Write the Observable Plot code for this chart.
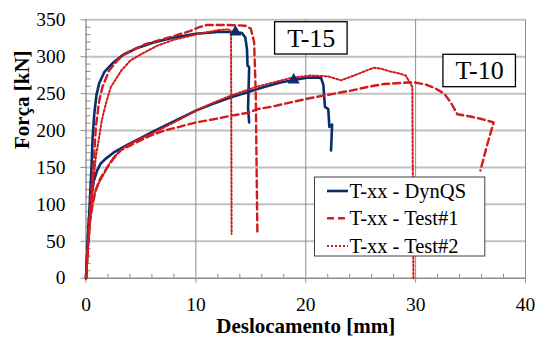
<!DOCTYPE html>
<html><head><meta charset="utf-8">
<script src="https://cdn.jsdelivr.net/npm/d3@7"></script>
<script src="https://cdn.jsdelivr.net/npm/@observablehq/plot@0.6"></script>
<style>
body{margin:0;background:#fff}
#chart{position:relative;width:536px;height:340px}
</style>
</head><body><div id="chart"></div>
<script>
// ---- axis ticks ----
const xTicks = [0, 10, 20, 30, 40];
const yTicks = [0, 50, 100, 150, 200, 250, 300, 350];
const xMinorTicks = [2, 4, 6, 8, 12, 14, 16, 18, 22, 24, 26, 28, 32, 34, 36, 38];
const yMinorTicks = [10,20,30,40,60,70,80,90,110,120,130,140,160,170,180,190,210,220,230,240,260,270,280,290,310,320,330,340];

// ---- series names ----
const seriesNames = ["T-xx - DynQS", "T-xx - Test#1", "T-xx - Test#2"];
const specimenNames = ["T-15", "T-10"];

// ---- T-15 curves [deslocamento mm, força kN] ----
const t15DynQS = [[0,0],[0.1,30],[0.2,60],[0.29,85],[0.4,120],[0.5,150],[0.6,190],[0.75,222],[0.95,248],[1.2,264],[1.66,279],[2.41,291],[3.32,302],[4.54,311],[6.06,319],[8,326],[10,331],[12,333.5],[13.6,333.5],[14.2,332],[14.5,326],[14.65,310],[14.7,288],[14.85,286],[14.75,230],[14.85,211]];
const t15Test1 = [[0,0],[0.1,25],[0.2,50],[0.3,75],[0.45,110],[0.68,150],[0.9,205],[1.2,240],[1.5,259],[2.1,281],[2.8,294],[3.5,304],[5.4,317],[8,328],[9.5,335],[10.3,340],[11,343],[13,343],[14.5,342],[15,338],[15.3,320],[15.45,250],[15.6,58]];
const t15Test2 = [[0,0],[0.15,30],[0.3,60],[0.45,95],[0.6,123],[0.9,165],[1.2,191],[1.44,214],[1.8,236],[2.26,259],[3.2,281],[4.05,295],[5.1,304],[6.5,315],[8,323],[10,330],[12,336],[13,337],[13.2,334],[13.25,60]];

// ---- T-10 curves ----
const t10DynQS = [[0,0],[0.1,30],[0.2,60],[0.3,85],[0.45,105],[0.71,132],[1.02,146],[1.32,155],[1.8,162],[2.5,170],[3.3,177],[4.05,183],[5,190],[6.05,198],[7.1,206],[8.5,216],[10,227],[11.5,236],[13.2,245],[14.7,252],[16.2,259],[17.7,265],[18.9,268.5],[20.1,271.5],[21.05,272],[21.4,271],[21.6,262],[21.75,232],[22.05,229],[22.15,205],[22.4,208],[22.3,173]];
const t10Test1 = [[0,0],[0.1,25],[0.2,50],[0.35,75],[0.55,95],[0.87,119],[1.3,135],[1.93,150],[2.5,162],[3.14,173],[4.05,180],[5,187],[5.87,193],[7.1,200],[8.5,205],[10,211],[11.5,215],[13.2,220],[14.7,224],[15.6,229],[16.8,232],[18,236],[20.1,243],[21.5,247],[22.6,250],[24.1,254],[25.6,259],[27.1,263],[28.3,264],[29.25,265],[30,265],[31,262],[31.7,258],[32.6,250],[33.2,238],[33.8,222],[35,219],[35.9,216],[37.1,211],[36.5,180],[35.9,146]];
const t10Test2 = [[0,0],[0.1,25],[0.2,50],[0.3,70],[0.5,95],[0.8,115],[1.2,130],[1.62,141],[2,152],[2.53,164],[3.44,177],[4.5,186],[6,196],[8,211],[10,227],[11.5,237],[13.2,247.5],[15.6,259.6],[17,265],[18.6,271],[20.4,274.5],[22,273.5],[23.2,268],[24.4,274.5],[25.3,280],[26.2,285],[26.8,284],[27.7,280],[28.6,277],[29.1,274.5],[29.7,259],[29.8,0]];

// ---- DynQS peak markers ----
const peakMarkers = [[13.6,333.5],[18.9,268.5]];

// ---- specimen label boxes (data units) ----
const labelCenters = [[20.5,324.7],[35.83,280.6]];
const labelBoxes = [[17.21,23.81,303,346.7],[32.53,39.13,258.7,302.6]];

// ---- build table ----
const rows = [];
const add = (series, spec, pts) => pts.forEach(([x,y]) => rows.push({series, spec, x, y}));
add(seriesNames[0], specimenNames[0], t15DynQS);
add(seriesNames[1], specimenNames[0], t15Test1);
add(seriesNames[2], specimenNames[0], t15Test2);
add(seriesNames[0], specimenNames[1], t10DynQS);
add(seriesNames[1], specimenNames[1], t10Test1);
add(seriesNames[2], specimenNames[1], t10Test2);

const FONT = "'Liberation Serif','Times New Roman',serif";
const BLUE = "#0c2d6b", RED = "#d01c1c", GRID = "#c0c0c0", AX = "#8c8c8c";
const W = 536, H = 340, mL = 85.5, mR = 11, mT = 19.3, mB = 62.3;
const fw = W - mL - mR, fh = H - mT - mB;
const styles = [
  {stroke: BLUE, strokeWidth: 2.6},
  {stroke: RED, strokeWidth: 2.4, strokeDasharray: "7,4"},
  {stroke: RED, strokeWidth: 2, strokeDasharray: "2,2"}
];

const chart = Plot.plot({
  width: W, height: H,
  marginLeft: mL, marginRight: mR, marginTop: mT, marginBottom: mB,
  x: {domain: [0, 40]},
  y: {domain: [0, 350]},
  style: {fontFamily: FONT, fontSize: "19.5px", color: "#000", background: "#fff"},
  marks: [
    Plot.ruleY(yTicks.filter(v => v > 0), {stroke: GRID, strokeWidth: 2}),
    Plot.ruleX(xTicks.filter(v => v > 0), {stroke: AX, strokeWidth: 1}),
    Plot.tickY(yMinorTicks, {y: d => d, insetRight: fw - 5, stroke: AX}),
    Plot.tickX(xMinorTicks, {x: d => d, insetTop: fh - 4, stroke: AX}),
    Plot.ruleX([0], {stroke: AX, strokeWidth: 1.3}),
    Plot.ruleY([0], {stroke: AX, strokeWidth: 1.5}),
    Plot.axisX({ticks: xTicks, tickSize: 5, tickPadding: 13.5, stroke: AX, fill: "#000", label: null, tickFormat: d => d, fontFamily: FONT}),
    Plot.axisY({ticks: yTicks, tickSize: 5, tickPadding: 15.5, stroke: AX, fill: "#000", label: null, tickFormat: d => d, fontFamily: FONT}),
    ...seriesNames.map((s, i) => Plot.line(rows.filter(d => d.series === s), {x: "x", y: "y", z: "spec", ...styles[i], curve: "linear", strokeLinejoin: "round"})),
    Plot.dot(peakMarkers, {x: d => d[0], y: d => d[1], symbol: "triangle", r: 4.5, fill: BLUE, stroke: null}),
    Plot.rect(labelBoxes, {x1: d => d[0], x2: d => d[1], y1: d => d[2], y2: d => d[3], fill: "#fff", stroke: "#000", strokeWidth: 1.3}),
    Plot.text(labelCenters, {x: d => d[0], y: d => d[1], text: (d, i) => specimenNames[i], fontSize: 26, fontFamily: FONT}),
    Plot.text(["Deslocamento [mm]"], {frameAnchor: "bottom", dy: 54.5, text: d => d, fontWeight: "bold", fontSize: 21, fontFamily: FONT}),
    Plot.text(["Força [kN]"], {frameAnchor: "left", dx: -63.5, rotate: -90, text: d => d, fontWeight: "bold", fontSize: 21, fontFamily: FONT})
  ]
});
document.getElementById("chart").appendChild(chart);

// ---- legend (inside plot area) ----
const svg = d3.select(chart);
const lg = svg.append("g").attr("font-family", FONT).attr("font-size", 20.5).attr("text-anchor", "start");
lg.append("rect").attr("x", 314.5).attr("y", 177).attr("width", 170.3).attr("height", 79)
  .attr("fill", "#fff").attr("stroke", "#404040").attr("stroke-width", 1);
const rowY = [191, 218.3, 246];
seriesNames.forEach((s, i) => {
  lg.append("line").attr("x1", 327).attr("x2", 348).attr("y1", rowY[i]).attr("y2", rowY[i])
    .attr("stroke", styles[i].stroke).attr("stroke-width", styles[i].strokeWidth)
    .attr("stroke-dasharray", styles[i].strokeDasharray || null);
  lg.append("text").attr("x", 349.5).attr("y", rowY[i] + 6.5).attr("fill", "#000")
    .attr("text-anchor", "start").text(s);
});
</script>
</body></html>
